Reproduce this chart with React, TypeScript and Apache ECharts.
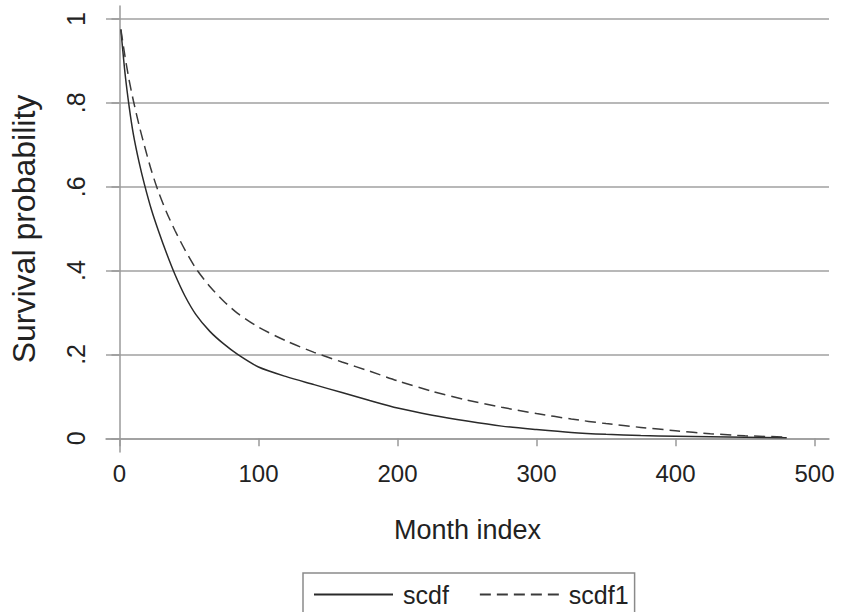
import React, { useEffect, useRef } from "react";
import * as echarts from "echarts";

const months = [1, 4, 7, 10, 14, 18, 23, 28, 34, 40, 47, 55, 65, 75, 85, 100, 120, 140, 160, 180, 200, 225, 250, 275, 300, 325, 350, 375, 400, 425, 450, 480];
const scdf = [0.975, 0.87, 0.79, 0.725, 0.66, 0.605, 0.545, 0.495, 0.44, 0.39, 0.34, 0.295, 0.255, 0.225, 0.2, 0.17, 0.147, 0.128, 0.109, 0.09, 0.072, 0.055, 0.041, 0.029, 0.021, 0.014, 0.0095, 0.0065, 0.0048, 0.0035, 0.0025, 0.0015];
const scdf1 = [0.975, 0.91, 0.853, 0.805, 0.748, 0.697, 0.638, 0.588, 0.538, 0.495, 0.45, 0.405, 0.362, 0.327, 0.298, 0.265, 0.232, 0.205, 0.182, 0.16, 0.137, 0.112, 0.091, 0.074, 0.059, 0.046, 0.035, 0.026, 0.018, 0.011, 0.006, 0.003];
const xTicks = [0, 100, 200, 300, 400, 500];
const yTicks = [0, 0.2, 0.4, 0.6, 0.8, 1];
const seriesNames = ["scdf", "scdf1"];

const FONT = "'Liberation Sans', Arial, Helvetica, sans-serif";

export default function App() {
  const ref = useRef<HTMLDivElement>(null);
  useEffect(() => {
    document.body.style.margin = "0";
    const chart = echarts.init(ref.current!, null, { renderer: "svg" });
    const axisGray = "#9a9a9a";
    chart.setOption({
      animation: false,
      backgroundColor: "#ffffff",
      textStyle: { fontFamily: FONT },
      grid: { left: 104, right: 13, top: 6, bottom: 160, containLabel: false },
      legend: {
        left: 303,
        top: 573,
        padding: [9, 6, 20, 10],
        borderColor: "#8a8a8a",
        borderWidth: 1.5,
        itemWidth: 79,
        itemHeight: 14,
        itemGap: 30,
        itemStyle: { opacity: 0 },
        textStyle: { fontSize: 25, color: "#222", fontFamily: FONT, padding: [0, 0, 0, 5] },
        data: seriesNames,
      },
      xAxis: {
        type: "value",
        min: -9.7,
        max: 510.4,
        name: "Month index",
        nameLocation: "middle",
        nameGap: 64,
        nameTextStyle: { fontSize: 27, color: "#222", fontFamily: FONT },
        axisLine: { show: true, lineStyle: { color: axisGray, width: 1.5 } },
        axisTick: { show: true, length: 8, customValues: xTicks, lineStyle: { color: axisGray, width: 1.5 } },
        axisLabel: { customValues: xTicks, fontSize: 24, color: "#222", margin: 9, fontFamily: FONT },
        splitLine: { show: false },
      },
      yAxis: {
        type: "value",
        min: -0.0327,
        max: 1.031,
        name: "Survival probability",
        nameLocation: "middle",
        nameGap: 66,
        nameTextStyle: { fontSize: 32, color: "#222", fontFamily: FONT },
        axisLine: { show: true, lineStyle: { color: axisGray, width: 1.5 } },
        axisTick: { show: true, length: 8, customValues: yTicks, lineStyle: { color: axisGray, width: 1.5 } },
        axisLabel: {
          customValues: yTicks,
          rotate: 90,
          fontSize: 25,
          color: "#222",
          margin: 18,
          fontFamily: FONT,
          formatter: (v: number) => (v === 0 ? "0" : v === 1 ? "1" : String(v).replace(/^0/, "")),
        },
        splitLine: { show: true, lineStyle: { color: "#b8b8b8", width: 2 } },
      },
      series: [
        {
          name: seriesNames[0],
          type: "line",
          data: months.map((m, i) => [m, scdf[i]]),
          symbol: "none",
          smooth: 0.25,
          color: "#2a2a2a",
          lineStyle: { color: "#2a2a2a", width: 1.5, type: "solid" },
        },
        {
          name: seriesNames[1],
          type: "line",
          data: months.map((m, i) => [m, scdf1[i]]),
          symbol: "none",
          smooth: 0.25,
          color: "#3a3a3a",
          lineStyle: { color: "#3a3a3a", width: 1.5, type: [11, 6] },
        },
      ],
    });
    return () => chart.dispose();
  }, []);
  return <div ref={ref} style={{ width: 842, height: 612 }} />;
}
